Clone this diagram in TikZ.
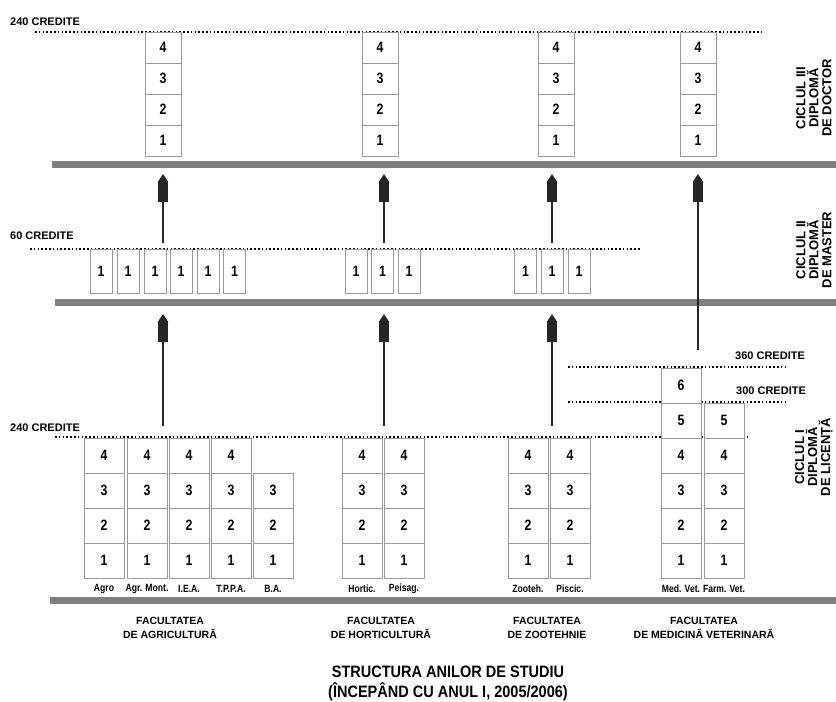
\documentclass[tikz,border=0pt]{standalone}
\usepackage{fontspec}
\setmainfont{Liberation Sans}
\newfontfamily\narrowsans[FakeStretch=0.82]{Liberation Sans}
\newfontfamily\titlesans[FakeStretch=0.88]{Liberation Sans}
\usetikzlibrary{arrows.meta}

\tikzset{
  yr/.style={draw=black!40, fill=white, inner sep=0pt, font=\narrowsans\bfseries\fontsize{15}{15}\selectfont},
  lowbox/.style={yr, minimum width=40pt, minimum height=35pt},
  docbox/.style={yr, minimum width=36pt, minimum height=31pt},
  masbox/.style={yr, minimum width=22pt, minimum height=44pt},
  credline/.style={line width=1.6pt, dash pattern=on 1.6pt off 2.2pt},
  credtext/.style={anchor=west, inner sep=0pt, font=\bfseries\fontsize{11}{11}\selectfont},
  greybar/.style={draw=black!50, line width=7pt},
  upway/.style={line width=2.6pt, draw=black!85,
    -{Rectangle[length=20pt,width=10pt,sep=0pt]Triangle[length=8pt,width=10pt]}},
  tag/.style={inner sep=0pt, font=\narrowsans\bfseries\fontsize{10.5}{10.5}\selectfont},
  faculty/.style={align=center, inner sep=0pt, font=\bfseries\fontsize{10.5}{14}\selectfont},
  cycle/.style={rotate=90, align=center, inner sep=0pt, font=\bfseries\fontsize{13}{13}\selectfont}
}

\begin{document}
\begin{tikzpicture}[x=1pt,y=-1pt]
  \useasboundingbox (0,0) rectangle (836,702);

  % Credit levels
  \draw[credline] (35,32) -- (762,32);
  \draw[credline] (30,249) -- (640,249);
  \draw[credline] (568,367) -- (787,367);
  \draw[credline] (568,402) -- (787,402);
  \draw[credline] (55,437) -- (750,437);
  \node[credtext] (cred240top) at (10,22) {240 CREDITE};
  \node[credtext] (cred60) at (10,236) {60 CREDITE};
  \node[credtext] (cred360) at (735,356) {360 CREDITE};
  \node[credtext] (cred300) at (736,391) {300 CREDITE};
  \node[credtext] (cred240) at (10,428) {240 CREDITE};

  % Grey levels
  \draw[greybar] (52,164) -- (836,164);
  \draw[greybar] (55,302.5) -- (836,302.5);
  \draw[greybar] (50,600.5) -- (836,600.5);

  % Ciclul III
  \foreach \nm/\cx in {agrd/163, hortd/380, zootd/556, medd/698}
    \foreach \k in {1,...,4}
      \node[docbox] (\nm\k) at (\cx,{156-31*\k+15.5}) {\k};

  % Ciclul II
  \foreach \nm/\cx in {mas1/101, mas2/128, mas3/155, mas4/181, mas5/208, mas6/234.5,
                       mas7/356, mas8/382.5, mas9/409, mas10/525.5, mas11/552, mas12/579}
    \node[masbox] (\nm) at (\cx,271) {1};

  % Ciclul I
  \foreach \nm/\cx/\rows/\lbl in {agro/104/4/Agro, agrm/147/4/Agr. Mont., iea/189/4/I.E.A.,
      tppa/231/4/T.P.P.A., ba/273/3/B.A., hort/362/4/Hortic., peis/404/4/Peisag.,
      zoot/528/4/Zooteh., pisc/570/4/Piscic., med/681/6/Med. Vet., farm/724/5/Farm. Vet.}
  {
    \foreach \k in {1,...,\rows}
      \node[lowbox] (\nm\k) at (\cx,{578-35*\k+17.5}) {\k};
    \node[tag] (\nm L) at (\cx,589) {\lbl};
  }

  % Arrows
  \coordinate (agrA) at (163,426);   \coordinate (agrB) at (163,314);
  \coordinate (hortA) at (384,426);  \coordinate (hortB) at (384,314);
  \coordinate (zootA) at (552,426);  \coordinate (zootB) at (552,314);
  \coordinate (agrC) at (163,243);   \coordinate (agrD) at (163,174);
  \coordinate (hortC) at (384,243);  \coordinate (hortD) at (384,174);
  \coordinate (zootC) at (552,243);  \coordinate (zootD) at (552,174);
  \coordinate (medA) at (698,350);   \coordinate (medD) at (698,174);
  \draw[upway] (agrA) -- (agrB);
  \draw[upway] (hortA) -- (hortB);
  \draw[upway] (zootA) -- (zootB);
  \draw[upway] (agrC) -- (agrD);
  \draw[upway] (hortC) -- (hortD);
  \draw[upway] (zootC) -- (zootD);
  \draw[upway] (medA) -- (medD);

  % Cycles
  \node[cycle] (cyc3) at (814,98) {CICLUL III\\DIPLOMĂ\\DE DOCTOR};
  \node[cycle] (cyc2) at (814,250) {CICLUL II\\DIPLOMĂ\\DE MASTER};
  \node[cycle] (cyc1) at (814,457) {CICLUL I\\DIPLOMĂ\\DE LICENȚĂ};

  % Faculties
  \node[faculty] (facAgr) at (170,628) {FACULTATEA\\DE AGRICULTURĂ};
  \node[faculty] (facHort) at (381,628) {FACULTATEA\\DE HORTICULTURĂ};
  \node[faculty] (facZoot) at (547,628) {FACULTATEA\\DE ZOOTEHNIE};
  \node[faculty] (facMed) at (704,628) {FACULTATEA\\DE MEDICINĂ VETERINARĂ};

  \node[align=center, inner sep=0pt, font=\titlesans\bfseries\fontsize{16.5}{20}\selectfont] (title) at (448,683)
    {STRUCTURA ANILOR DE STUDIU\\(ÎNCEPÂND CU ANUL I, 2005/2006)};
\end{tikzpicture}
\end{document}
